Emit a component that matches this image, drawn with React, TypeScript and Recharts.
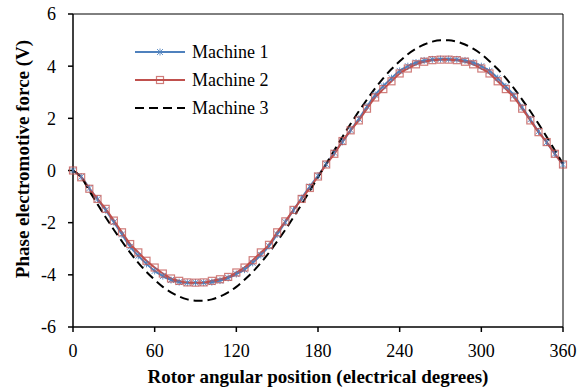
import { Label, Line, LineChart, ReferenceLine, XAxis, YAxis } from 'recharts';

const angles = [
  0, 6, 12, 18, 24, 30, 36, 42, 48, 54, 60, 66, 72, 78, 84, 90, 96, 102, 108, 114, 120,
  126, 132, 138, 144, 150, 156, 162, 168, 174, 180, 186, 192, 198, 204, 210, 216, 222,
  228, 234, 240, 246, 252, 258, 264, 270, 276, 282, 288, 294, 300, 306, 312, 318, 324,
  330, 336, 342, 348, 354, 360,
];

const machine1 = [
  0, -0.24, -0.68, -1.1, -1.52, -1.98, -2.45, -2.92, -3.27, -3.58, -3.85, -4.05, -4.2,
  -4.28, -4.3, -4.3, -4.3, -4.28, -4.22, -4.12, -3.97, -3.8, -3.54, -3.24, -2.9, -2.45,
  -1.98, -1.52, -1.06, -0.62, -0.2, 0.24, 0.68, 1.1, 1.55, 1.98, 2.45, 2.9, 3.24, 3.54,
  3.82, 4.0, 4.14, 4.22, 4.26, 4.27, 4.27, 4.26, 4.22, 4.14, 4.0, 3.82, 3.54, 3.22, 2.88,
  2.42, 1.96, 1.5, 1.08, 0.64, 0.23,
];

const machine2 = [
  0, -0.26, -0.7, -1.09, -1.47, -1.92, -2.37, -2.82, -3.14, -3.46, -3.72, -3.95, -4.14,
  -4.23, -4.29, -4.3, -4.29, -4.23, -4.17, -4.08, -3.91, -3.72, -3.44, -3.14, -2.85, -2.37,
  -1.95, -1.51, -1.09, -0.67, -0.23, 0.23, 0.64, 1.13, 1.54, 1.92, 2.37, 2.8, 3.12, 3.42,
  3.72, 3.91, 4.07, 4.17, 4.23, 4.25, 4.25, 4.23, 4.17, 4.07, 3.91, 3.72, 3.42, 3.12, 2.8,
  2.37, 1.92, 1.47, 1.09, 0.64, 0.23,
];

const machine3 = [
  0, -0.26, -0.78, -1.29, -1.79, -2.27, -2.72, -3.15, -3.54, -3.89, -4.19, -4.46, -4.67,
  -4.83, -4.94, -4.99, -4.99, -4.94, -4.83, -4.67, -4.46, -4.19, -3.89, -3.54, -3.15, -2.72,
  -2.27, -1.79, -1.29, -0.78, -0.26, 0.26, 0.78, 1.29, 1.79, 2.27, 2.72, 3.15, 3.54, 3.89,
  4.19, 4.46, 4.67, 4.83, 4.94, 4.99, 4.99, 4.94, 4.83, 4.67, 4.46, 4.19, 3.89, 3.54, 3.15,
  2.72, 2.27, 1.79, 1.29, 0.78, 0.26,
];

const xTicks = [0, 60, 120, 180, 240, 300, 360];
const yTicks = [-6, -4, -2, 0, 2, 4, 6];

const BLUE = '#4F81BD';
const RED = '#C0504D';
const FONT = '"Liberation Serif", "Times New Roman", serif';

const data = angles.map((angle, i) => ({
  angle,
  m1: machine1[i],
  m2: machine2[i],
  m3: machine3[i],
}));

function Asterisk({ cx, cy }: any) {
  if (cx == null || cy == null) return null;
  const r = 3;
  return (
    <g stroke={BLUE} strokeWidth={1} strokeOpacity={0.85}>
      <line x1={cx - r} y1={cy - r} x2={cx + r} y2={cy + r} />
      <line x1={cx - r} y1={cy + r} x2={cx + r} y2={cy - r} />
      <line x1={cx} y1={cy - r - 0.5} x2={cx} y2={cy + r + 0.5} />
    </g>
  );
}

function Square({ cx, cy }: any) {
  if (cx == null || cy == null) return null;
  const s = 7;
  return (
    <rect
      x={cx - s / 2}
      y={cy - s / 2}
      width={s}
      height={s}
      fill="none"
      stroke={RED}
      strokeOpacity={0.75}
      strokeWidth={1.2}
    />
  );
}

const legendItems = [
  { label: 'Machine 1', color: BLUE, kind: 'asterisk' },
  { label: 'Machine 2', color: RED, kind: 'square' },
  { label: 'Machine 3', color: '#000', kind: 'dash' },
];

// legend sits inside the plot, top left
function LegendBox() {
  return (
    <div
      style={{
        position: 'absolute',
        left: 134,
        top: 38,
        fontFamily: FONT,
        fontSize: 18,
        color: '#000',
        lineHeight: 1,
      }}
    >
      {legendItems.map((item) => (
        <div key={item.label} style={{ display: 'flex', alignItems: 'center', height: 28 }}>
          <svg width={52} height={12} style={{ marginRight: 6 }}>
            {item.kind === 'dash' ? (
              <line x1={1} y1={6} x2={51} y2={6} stroke="#000" strokeWidth={2} strokeDasharray="9 5" />
            ) : (
              <line x1={1} y1={6} x2={51} y2={6} stroke={item.color} strokeWidth={2} />
            )}
            {item.kind === 'asterisk' && <Asterisk cx={26} cy={6} />}
            {item.kind === 'square' && <Square cx={26} cy={6} />}
          </svg>
          <span>{item.label}</span>
        </div>
      ))}
    </div>
  );
}

export default function App() {
  return (
    <div style={{ position: 'absolute', left: 0, top: 0, background: '#fff', fontFamily: FONT }}>
      <LineChart
        width={579}
        height={389}
        data={data}
        margin={{ top: 14, right: 16, left: 0, bottom: 32 }}
        style={{ fontFamily: FONT }}
      >
        <XAxis
          dataKey="angle"
          type="number"
          domain={[0, 360]}
          ticks={xTicks}
          interval={0}
          stroke="#000"
          strokeWidth={1.5}
          tickSize={5}
          tickMargin={12}
          tick={{ fill: '#000', fontSize: 18, fontFamily: FONT }}
          height={30}
        >
          <Label
            content={() => (
              <text
                x={318}
                y={383}
                textAnchor="middle"
                fontFamily={FONT}
                fontSize={19}
                fontWeight="bold"
                fill="#000"
              >
                Rotor angular position (electrical degrees)
              </text>
            )}
          />
        </XAxis>
        <YAxis
          type="number"
          domain={[-6, 6]}
          ticks={yTicks}
          interval={0}
          stroke="#000"
          strokeWidth={1.5}
          tickSize={5}
          tickMargin={12}
          tick={{ fill: '#000', fontSize: 18, fontFamily: FONT }}
          width={73}
        >
          <Label
            content={() => (
              <text
                x={29}
                y={159}
                transform="rotate(-90 29 159)"
                textAnchor="middle"
                fontFamily={FONT}
                fontSize={19}
                fontWeight="bold"
                fill="#000"
              >
                Phase electromotive force (V)
              </text>
            )}
          />
        </YAxis>
        <ReferenceLine y={6} stroke="#000" strokeWidth={1} />
        <ReferenceLine x={360} stroke="#000" strokeWidth={1} />
        <Line
          type="monotone"
          dataKey="m1"
          name="Machine 1"
          stroke={BLUE}
          strokeWidth={2}
          dot={<Asterisk />}
          isAnimationActive={false}
        />
        <Line
          type="monotone"
          dataKey="m2"
          name="Machine 2"
          stroke={RED}
          strokeWidth={2}
          dot={<Square />}
          isAnimationActive={false}
        />
        <Line
          type="monotone"
          dataKey="m3"
          name="Machine 3"
          stroke="#000"
          strokeWidth={2}
          strokeDasharray="9 5"
          dot={false}
          isAnimationActive={false}
        />
      </LineChart>
      <LegendBox />
    </div>
  );
}
